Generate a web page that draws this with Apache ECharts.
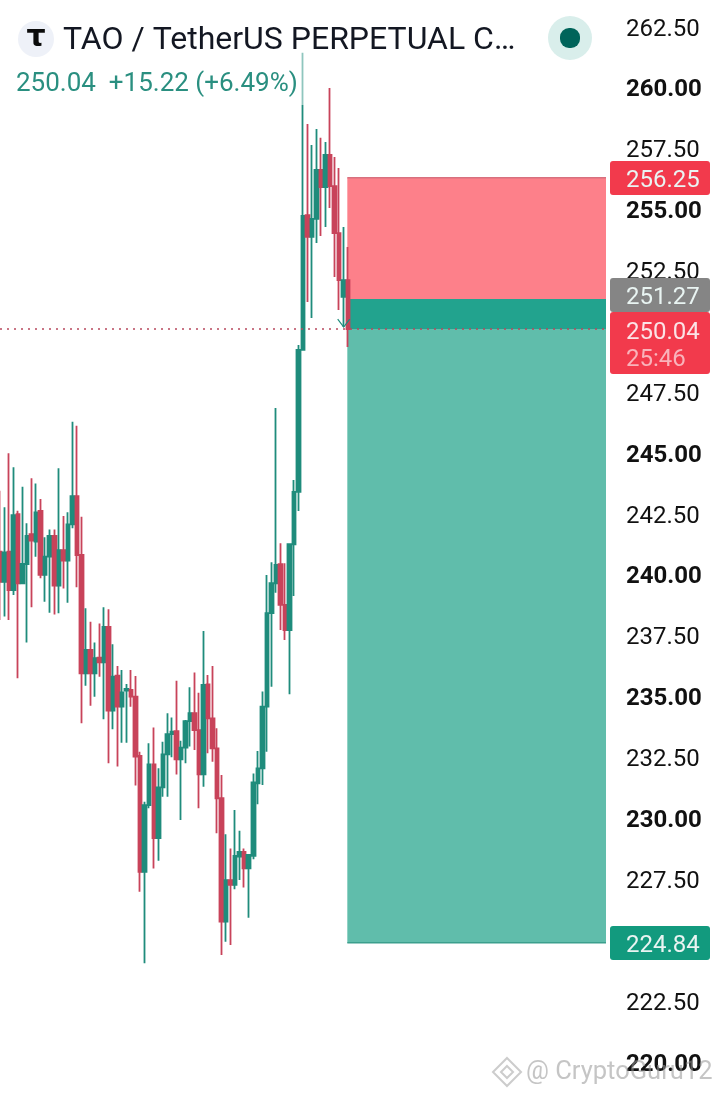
<!DOCTYPE html>
<html><head><meta charset="utf-8">
<style>html,body{margin:0;padding:0;background:#fff}#c{width:720px;height:1097px}</style>
<script src="https://cdn.jsdelivr.net/npm/echarts@6/dist/echarts.min.js"></script>
</head><body><div id="c"></div>
<script>
var opens=[240.90,239.66,240.90,239.32,242.44,239.60,240.39,241.62,241.31,242.57,239.94,240.69,241.54,239.50,240.96,240.53,242.02,243.18,240.76,235.90,236.86,235.90,236.54,236.35,237.81,234.37,235.80,234.53,235.19,235.22,234.94,232.51,227.75,230.49,232.16,229.13,231.22,232.57,233.40,233.53,232.37,232.85,233.94,234.26,233.57,231.75,235.45,234.05,232.82,230.77,225.70,227.41,227.21,228.37,228.57,227.89,228.40,231.38,232.00,234.53,238.37,239.60,240.38,238.71,237.68,241.20,243.35,249.18,254.72,253.82,254.56,256.57,255.87,257.19,255.91,253.98,251.36,252.05];
var closes=[239.66,240.87,239.32,242.40,239.60,240.39,241.54,241.35,242.51,239.94,240.69,241.54,239.50,240.96,240.53,242.02,243.18,240.76,235.90,236.86,235.90,236.52,236.35,237.81,234.37,235.76,234.53,235.12,235.26,234.94,232.48,227.75,230.49,232.16,229.13,231.22,232.57,233.40,233.50,232.37,232.85,233.94,234.26,233.57,231.75,235.42,234.05,232.82,230.77,225.70,227.41,227.21,228.40,228.57,227.89,228.44,231.42,232.00,234.53,238.37,239.60,240.35,238.71,237.68,241.20,243.35,249.18,254.68,253.82,254.56,256.57,255.87,257.19,255.91,253.98,252.05,252.05,250.04];
var lows=[238.09,238.23,238.09,239.12,235.70,239.60,237.17,238.61,240.69,239.80,238.84,238.39,238.32,238.37,239.38,238.80,241.86,239.43,233.85,235.39,234.57,234.94,235.76,234.01,232.21,233.60,232.07,233.05,233.05,234.53,231.29,226.93,223.99,230.36,227.88,228.20,230.83,230.83,232.45,231.75,229.88,232.21,232.89,232.75,230.36,231.24,232.62,232.27,229.33,224.33,224.88,224.74,227.03,227.41,227.10,225.86,228.26,230.52,231.31,232.68,235.35,239.21,237.68,237.27,235.04,239.08,242.57,249.18,251.15,250.49,253.57,253.86,254.23,255.01,252.18,250.82,250.12,249.30];
var highs=[243.40,242.72,244.94,244.36,242.58,243.56,242.06,243.91,243.70,243.06,241.49,241.81,241.81,244.32,242.36,242.51,246.23,246.07,242.33,238.57,238.02,237.17,237.95,238.61,238.53,237.09,236.20,236.04,235.46,236.04,235.79,232.68,230.63,233.03,233.68,232.00,233.09,234.26,234.09,235.59,233.13,233.98,235.33,235.93,235.10,237.64,235.83,236.20,233.64,231.72,229.29,228.71,230.29,229.43,228.71,228.44,231.79,232.71,235.15,239.94,240.46,246.80,241.24,240.42,241.20,243.84,249.38,261.38,258.46,257.60,258.25,257.89,257.72,259.94,257.10,256.65,254.23,253.41];
var stopPrice=256.25, entryPrice=251.27, lastPrice=250.04, targetPrice=224.84;
var countdown='25:46';
var zoneStart=76.8, zoneEnd=134, barIndexMax=134;
var zones=[[stopPrice,entryPrice,'#fd808a'],[entryPrice,lastPrice,'#22a38e'],[lastPrice,targetPrice,'#60bdab']];
var tagRows=[[stopPrice,'#f23a4c'],[entryPrice,'#858585'],[targetPrice,'#129a7e']];
var arrowPoint=[76,250.12];
var titleText='TAO / TetherUS PERPETUAL C…';
var quoteText='250.04  +15.22 (+6.49%)';
var watermark='@ CryptoGuru12';

var UP='#1f8c7c',DOWN='#c8435a',FONT='Roboto';
var candles=opens.map(function(o,i){return [i,o,closes[i],lows[i],highs[i]];});

function zoneItem(p,api){
  var a=api.coord([zoneStart,api.value(0)]),b=api.coord([zoneEnd,api.value(1)]);
  var col=zones[p.dataIndex][2],kids=[{type:'rect',shape:{x:a[0],y:a[1],width:b[0]-a[0],height:b[1]-a[1]},style:{fill:col}}];
  if(p.dataIndex===0)kids.push({type:'line',shape:{x1:a[0],y1:a[1],x2:b[0],y2:a[1]},style:{stroke:'#d8707e',lineWidth:1.5}});
  if(p.dataIndex===2)kids.push({type:'line',shape:{x1:a[0],y1:b[1],x2:b[0],y2:b[1]},style:{stroke:'#3c9f8d',lineWidth:1.5}});
  return {type:'group',children:kids};
}
function tagBox(y,h,fill,text){
  return {type:'group',children:[
    {type:'rect',shape:{x:610,y:y,width:100,height:h,r:3},style:{fill:fill}},
    {type:'text',style:{x:626,y:y+19.5,text:text,fill:'#e9f4f2',font:'24px '+FONT,textAlign:'left',textVerticalAlign:'middle'}}
  ]};
}
function tagItem(p,api){
  var y=api.coord([0,api.value(0)])[1],idx=p.dataIndex;
  var fix=[-17,-21,-17][idx];
  return tagBox(Math.round(y+fix),34,tagRows[idx][1],api.value(0).toFixed(2));
}
function lastItem(p,api){
  var y=Math.round(api.coord([0,api.value(0)])[1])-17;
  return {type:'group',children:[
    {type:'rect',shape:{x:610,y:y,width:100,height:62,r:3},style:{fill:'#f23a4c'}},
    {type:'text',style:{x:626,y:y+21,text:lastPrice.toFixed(2),fill:'#fbe3e6',font:'24px '+FONT,textAlign:'left',textVerticalAlign:'middle'}},
    {type:'text',style:{x:626,y:y+48,text:countdown,fill:'#f9b3bb',font:'24px '+FONT,textAlign:'left',textVerticalAlign:'middle'}}
  ]};
}
function arrowItem(p,api){
  var c=api.coord([api.value(0),api.value(1)]);
  return {type:'polyline',shape:{points:[[c[0]-6,c[1]-8],[c[0],c[1]],[c[0]+6,c[1]-8]]},style:{stroke:UP,lineWidth:1.2,fill:'none'}};
}

var chart=echarts.init(document.getElementById('c'),null,{renderer:'canvas',width:720,height:1097});
chart.setOption({
  animation:false,backgroundColor:'#ffffff',
  grid:{left:0,top:25.6,width:606,height:1034.9,containLabel:false},
  xAxis:{type:'value',min:0,max:barIndexMax,show:false,splitLine:{show:false}},
  yAxis:{type:'value',position:'right',min:220,max:262.5,interval:2.5,scale:true,
    axisLine:{show:false},axisTick:{show:false},splitLine:{show:false},
    axisLabel:{margin:20,align:'left',verticalAlign:'middle',padding:[8,0,0,0],fontFamily:FONT,fontSize:24,color:'#111',showMinLabel:true,showMaxLabel:true,
      formatter:function(v){return (v%5===0?'{b|':'{n|')+v.toFixed(2)+'}';},
      rich:{b:{fontFamily:FONT,fontSize:24,fontWeight:'bold',color:'#111'},n:{fontFamily:FONT,fontSize:24,color:'#111'}}}},
  series:[
    {type:'custom',name:'zones',z:1,renderItem:zoneItem,clip:false,silent:true,data:zones.map(function(z){return [z[0],z[1]];}),encode:{y:[0,1]}},
    {type:'candlestick',name:'TAOUSDT',z:3,data:candles,barWidth:4,clip:true,encode:{x:0,y:[1,2,3,4]},
      itemStyle:{color:UP,color0:DOWN,borderColor:UP,borderColor0:DOWN,borderWidth:1.8},
      markLine:{silent:true,symbol:'none',label:{show:false},z:4,animation:false,
        lineStyle:{color:'#b8485e',width:1.6,type:[2,5]},data:[{yAxis:lastPrice}]}},
    {type:'custom',name:'arrow',z:4,renderItem:arrowItem,silent:true,data:[arrowPoint],encode:{x:0,y:1}},
    {type:'custom',name:'tags',z:5,renderItem:tagItem,clip:false,silent:true,data:tagRows.map(function(t){return [t[0]];}),encode:{y:0}},
    {type:'custom',name:'last',z:6,renderItem:lastItem,clip:false,silent:true,data:[[lastPrice]],encode:{y:0}}
  ],
  graphic:[
    {type:'rect',z:100,shape:{x:297,y:48,width:10,height:57},style:{fill:'rgba(255,255,255,0.5)'}},
    {type:'circle',z:101,shape:{cx:36,cy:39,r:18},style:{fill:'#eef1f8'}},
    {type:'text',z:102,style:{x:36,y:38,text:'τ',fill:'#0b0b0b',font:'bold 30px "DejaVu Sans"',textAlign:'center',textVerticalAlign:'middle'}},
    {type:'text',z:102,style:{x:63,y:41,text:titleText,fill:'#131722',font:'32px '+FONT,textAlign:'left',textVerticalAlign:'middle'}},
    {type:'text',z:102,style:{x:16,y:84,text:quoteText,fill:'#2a8f80',font:'26px '+FONT,textAlign:'left',textVerticalAlign:'middle'}},
    {type:'circle',z:101,shape:{cx:570,cy:38,r:22},style:{fill:'#d9eeeb'}},
    {type:'rect',z:102,shape:{x:560,y:28,width:20,height:20,r:9},style:{fill:'#00645a'}},
    {type:'polygon',z:103,shape:{points:[[507,1058],[521,1072],[507,1086],[493,1072]]},style:{fill:'rgba(255,255,255,0.25)',stroke:'rgba(170,170,170,0.6)',lineWidth:2}},
    {type:'polygon',z:103,shape:{points:[[507,1066],[513,1072],[507,1078],[501,1072]]},style:{fill:'none',stroke:'rgba(170,170,170,0.6)',lineWidth:2}},
    {type:'text',z:103,style:{x:526,y:1073,text:watermark,fill:'rgba(150,150,150,0.55)',font:'25.5px '+FONT,textAlign:'left',textVerticalAlign:'middle'}}
  ]
});
</script></body></html>
